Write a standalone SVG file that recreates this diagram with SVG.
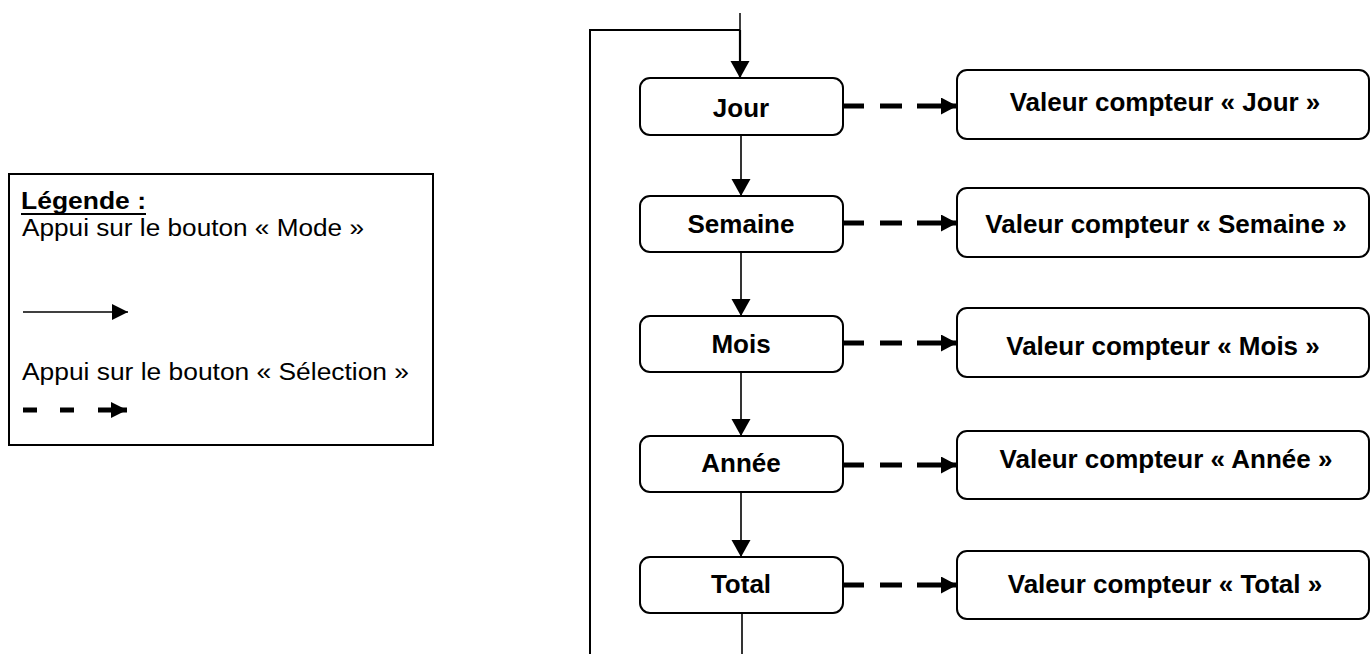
<svg xmlns="http://www.w3.org/2000/svg" width="1371" height="654" viewBox="0 0 1371 654">
<style>
.box{fill:#fff;stroke:#000;stroke-width:2}
.t{font-family:"Liberation Sans",Arial,sans-serif;font-weight:bold;font-size:26px;fill:#000;text-anchor:middle}
.lt{font-family:"Liberation Sans",Arial,sans-serif;font-size:23px;fill:#000}
.solid{fill:none;stroke:#000;stroke-width:1.6}
.dash{fill:none;stroke:#000;stroke-width:5}
</style>
<defs>
<marker id="ah" markerUnits="userSpaceOnUse" markerWidth="20" markerHeight="20" refX="17" refY="9.5" orient="auto" viewBox="0 0 20 20"><path d="M0,0 L17,9.5 L0,19 Z" fill="#000"/></marker>
<marker id="ahd" markerUnits="userSpaceOnUse" markerWidth="18" markerHeight="18" refX="16" refY="8.5" orient="auto" viewBox="0 0 18 18"><path d="M0,0 L16,8.5 L0,17 Z" fill="#000"/></marker>
<marker id="ahl" markerUnits="userSpaceOnUse" markerWidth="18" markerHeight="17" refX="16" refY="8" orient="auto" viewBox="0 0 18 17"><path d="M0,0 L16,8 L0,16 Z" fill="#000"/></marker>
</defs>

<g id="legend">
<rect x="9" y="174" width="424" height="271" fill="#fff" stroke="#000" stroke-width="2"/>
<text class="lt" x="21" y="209" font-weight="bold" textLength="125" lengthAdjust="spacingAndGlyphs">Légende :</text>
<line x1="21" y1="214" x2="146" y2="214" stroke="#000" stroke-width="2"/>
<text class="lt" x="22" y="236" textLength="342" lengthAdjust="spacingAndGlyphs">Appui sur le bouton « Mode »</text>
<line x1="23" y1="312" x2="128" y2="312" class="solid" marker-end="url(#ahl)"/>
<text class="lt" x="22" y="380" textLength="387" lengthAdjust="spacingAndGlyphs">Appui sur le bouton « Sélection »</text>
<path d="M23,410 H37 M60,410 H74 M98,410 H127" class="dash" marker-end="url(#ahl)"/>
</g>

<g id="connectors">
<line x1="740" y1="13" x2="740" y2="31" stroke="#000" stroke-width="1.5"/>
<polyline points="590,654 590,30 740,30" fill="none" stroke="#000" stroke-width="2"/>
<line x1="740" y1="30" x2="740" y2="78" stroke="#000" stroke-width="2.2" marker-end="url(#ah)"/>
<line x1="741" y1="135" x2="741" y2="196" class="solid" marker-end="url(#ah)"/>
<line x1="741" y1="252" x2="741" y2="316" class="solid" marker-end="url(#ah)"/>
<line x1="741" y1="372" x2="741" y2="436" class="solid" marker-end="url(#ah)"/>
<line x1="741" y1="492" x2="741" y2="557" class="solid" marker-end="url(#ah)"/>
<line x1="742" y1="613" x2="742" y2="654" class="solid"/>
<path d="M843,106 H864 M880,106 H902 M917,106 H957" class="dash" marker-end="url(#ahd)"/>
<path d="M843,223 H864 M880,223 H902 M917,223 H957" class="dash" marker-end="url(#ahd)"/>
<path d="M843,343 H864 M880,343 H902 M917,343 H957" class="dash" marker-end="url(#ahd)"/>
<path d="M843,465 H864 M880,465 H902 M917,465 H957" class="dash" marker-end="url(#ahd)"/>
<path d="M843,585 H864 M880,585 H902 M917,585 H957" class="dash" marker-end="url(#ahd)"/>
</g>

<g id="jour"><rect class="box" x="640" y="78" width="203" height="57" rx="10"/><text class="t" x="741" y="117">Jour</text></g>
<g id="semaine"><rect class="box" x="640" y="196" width="203" height="56" rx="10"/><text class="t" x="741" y="233">Semaine</text></g>
<g id="mois"><rect class="box" x="640" y="316" width="203" height="56" rx="10"/><text class="t" x="741" y="353">Mois</text></g>
<g id="annee"><rect class="box" x="640" y="436" width="203" height="56" rx="10"/><text class="t" x="741" y="472">Année</text></g>
<g id="total"><rect class="box" x="640" y="557" width="203" height="56" rx="10"/><text class="t" x="741" y="593">Total</text></g>

<g id="v-jour"><rect class="box" x="957" y="70" width="412" height="69" rx="10"/><text class="t" x="1165" y="111">Valeur compteur « Jour »</text></g>
<g id="v-semaine"><rect class="box" x="957" y="188" width="412" height="69" rx="10"/><text class="t" x="1166" y="233">Valeur compteur « Semaine »</text></g>
<g id="v-mois"><rect class="box" x="957" y="308" width="412" height="69" rx="10"/><text class="t" x="1163" y="355">Valeur compteur « Mois »</text></g>
<g id="v-annee"><rect class="box" x="957" y="431" width="412" height="68" rx="10"/><text class="t" x="1166" y="468">Valeur compteur « Année »</text></g>
<g id="v-total"><rect class="box" x="957" y="551" width="412" height="68" rx="10"/><text class="t" x="1165" y="593">Valeur compteur « Total »</text></g>
</svg>
